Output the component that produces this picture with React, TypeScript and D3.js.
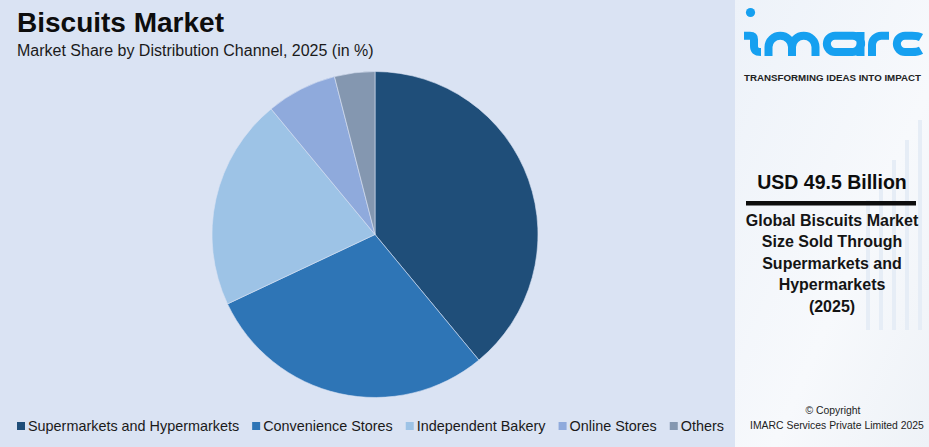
import { useEffect, useRef } from 'react'
import * as d3 from 'd3'

const channels = ['Supermarkets and Hypermarkets', 'Convenience Stores', 'Independent Bakery', 'Online Stores', 'Others']
const shares = [39, 29, 21, 7, 4]
const sliceColors = ['#1f4e79', '#2e75b6', '#9dc3e6', '#8faadc', '#8497b0']

const title = 'Biscuits Market'
const subtitle = 'Market Share by Distribution Channel, 2025 (in %)'
const headline = 'USD 49.5 Billion'
const noteLines = ['Global Biscuits Market', 'Size Sold Through', 'Supermarkets and', 'Hypermarkets', '(2025)']

const WIDTH = 929
const HEIGHT = 447
const FONT = '"Liberation Sans", Arial, sans-serif'

export default function App() {
  const svgRef = useRef<SVGSVGElement>(null)

  useEffect(() => {
    if (!svgRef.current) return
    document.body.style.margin = '0'
    const svg = d3.select(svgRef.current)
    svg.selectAll('*').remove()
    svg.attr('width', WIDTH).attr('height', HEIGHT)

    // 배경
    svg.append('rect').attr('width', WIDTH).attr('height', HEIGHT).attr('fill', '#dae3f3')

    const defs = svg.append('defs')
    const grad = defs.append('linearGradient').attr('id', 'panel').attr('x1', 0).attr('x2', 1).attr('y1', 0).attr('y2', 1)
    grad.append('stop').attr('offset', '0%').attr('stop-color', '#edf2f9')
    grad.append('stop').attr('offset', '60%').attr('stop-color', '#f7f9fc')
    grad.append('stop').attr('offset', '100%').attr('stop-color', '#eef2f7')

    const panel = svg.append('g')
    panel.append('rect').attr('x', 735).attr('y', 0).attr('width', WIDTH - 735).attr('height', HEIGHT).attr('fill', 'url(#panel)')
    // 희미한 장식선
    const deco = d3.range(5)
    panel.selectAll('.deco')
      .data(deco)
      .enter()
      .append('line')
      .attr('x1', (_, i) => 868 + i * 13)
      .attr('x2', (_, i) => 868 + i * 13)
      .attr('y1', (_, i) => 200 - i * 20)
      .attr('y2', 330)
      .attr('stroke', '#e6edf6')
      .attr('stroke-width', 4)

    // 제목
    svg.append('text')
      .attr('x', 17).attr('y', 32)
      .style('font-family', FONT).style('font-size', '28px').style('font-weight', 'bold').style('fill', '#0d0d0d')
      .text(title)
    svg.append('text')
      .attr('x', 17).attr('y', 56)
      .style('font-family', FONT).style('font-size', '16px').style('fill', '#1a1a1a')
      .text(subtitle)

    // 파이
    const cx = 375
    const cy = 234.5
    const radius = 163
    const pie = d3.pie<number>().sort(null).value(d => d)
    const arc = d3.arc<d3.PieArcDatum<number>>().innerRadius(0).outerRadius(radius)
    const g = svg.append('g').attr('transform', `translate(${cx},${cy})`)
    g.selectAll('.slice')
      .data(pie(shares))
      .enter()
      .append('path')
      .attr('class', 'slice')
      .attr('d', arc)
      .attr('fill', (_, i) => sliceColors[i])
      .attr('stroke', '#dae3f3')
      .attr('stroke-width', 0.6)

    // 범례
    const legend = svg.append('g')
    let lx = 17
    channels.forEach((name, i) => {
      legend.append('rect')
        .attr('x', lx).attr('y', 422).attr('width', 8).attr('height', 8)
        .attr('fill', sliceColors[i])
      const t = legend.append('text')
        .attr('x', lx + 11).attr('y', 431)
        .style('font-family', FONT).style('font-size', '14.4px').style('fill', '#1a1a1a')
        .text(name)
      const w = (t.node() as SVGTextElement).getComputedTextLength()
      lx = lx + 11 + w + 13
    })

    // 로고
    const logo = svg.append('g').attr('fill', 'none').attr('stroke', '#16a0f0').attr('stroke-width', 8)
    logo.append('circle').attr('cx', 750.5).attr('cy', 12.5).attr('r', 4.6).attr('fill', '#16a0f0').attr('stroke', 'none')
    logo.append('path').attr('d', 'M744,35.7 H750 Q754,35.7 754,39.5 V46 Q754,52 761,52')
    logo.append('path').attr('d', 'M768.5,56 V47 A11.75,11.3 0 0 1 792,47 V56 M792,47 A11.75,11.3 0 0 1 815.5,47 V56')
    logo.append('path').attr('d', 'M860.5,47 A8.2,8.2 0 0 0 852.3,35.7 H835 A8.15,8.15 0 0 0 835,52 H852.3 A8.2,8.2 0 0 0 860.5,43.8 M860.5,32 V56')
    logo.append('path').attr('d', 'M872,56 V45 A9.3,9.3 0 0 1 881.3,35.7 H889')
    logo.append('path').attr('d', 'M921,37.5 Q918,35.7 912,35.7 H905 A8.15,8.15 0 0 0 905,52 H912 Q918,52 921,50.2')
    svg.append('text')
      .attr('x', 744).attr('y', 80.5)
      .attr('textLength', 177).attr('lengthAdjust', 'spacingAndGlyphs')
      .style('font-family', FONT).style('font-size', '9.8px').style('font-weight', 'bold').style('fill', '#222')
      .text('TRANSFORMING IDEAS INTO IMPACT')

    // 오른쪽 패널 텍스트
    const px = 832
    svg.append('text')
      .attr('x', px).attr('y', 188.5).attr('text-anchor', 'middle')
      .style('font-family', FONT).style('font-size', '19.5px').style('font-weight', 'bold').style('fill', '#0d0d0d')
      .text(headline)
    svg.append('rect').attr('x', 746).attr('y', 201).attr('width', 170).attr('height', 4.5).attr('fill', '#0d0d0d')
    svg.selectAll('.note')
      .data(noteLines)
      .enter()
      .append('text')
      .attr('class', 'note')
      .attr('x', px)
      .attr('y', (_, i) => 225.5 + i * 21.5)
      .attr('text-anchor', 'middle')
      .style('font-family', FONT).style('font-size', '16px').style('font-weight', 'bold').style('fill', '#141414')
      .text(d => d)

    svg.append('text')
      .attr('x', 833).attr('y', 414).attr('text-anchor', 'middle')
      .style('font-family', FONT).style('font-size', '10.4px').style('fill', '#222')
      .text('© Copyright')
    svg.append('text')
      .attr('x', 837).attr('y', 429).attr('text-anchor', 'middle')
      .style('font-family', FONT).style('font-size', '10.4px').style('fill', '#222')
      .text('IMARC Services Private Limited 2025')
  }, [])

  return <svg ref={svgRef} style={{ display: 'block' }}></svg>
}
